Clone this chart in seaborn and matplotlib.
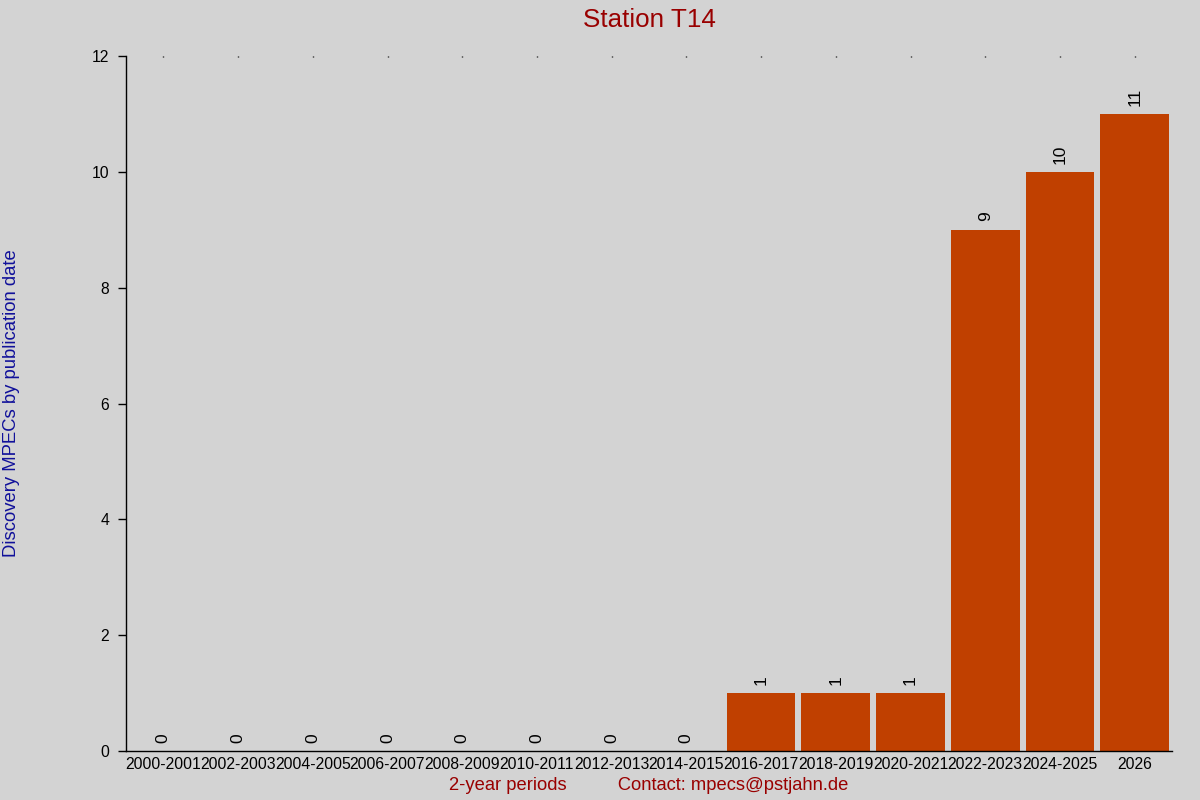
import pandas as pd
import seaborn as sns
import matplotlib.pyplot as plt

# data
periods = ['2000-2001', '2002-2003', '2004-2005', '2006-2007', '2008-2009',
           '2010-2011', '2012-2013', '2014-2015', '2016-2017', '2018-2019',
           '2020-2021', '2022-2023', '2024-2025', '2026']
counts = [0, 0, 0, 0, 0, 0, 0, 0, 1, 1, 1, 9, 10, 11]
yticks = [0, 2, 4, 6, 8, 10, 12]

bg = '#d3d3d3'
sns.set_theme(style='ticks')
plt.rcParams['font.family'] = ['Liberation Sans', 'DejaVu Sans']

df = pd.DataFrame({'period': periods, 'count': counts})

fig = plt.figure(figsize=(12, 8), dpi=100, facecolor=bg)
ax = fig.add_axes([126 / 1200, 1 - 751 / 800, 1046 / 1200, 695 / 800])
ax.set_facecolor(bg)

sns.barplot(data=df, x='period', y='count', color='#c04000', saturation=1,
            width=0.92, linewidth=0, ax=ax)
#value labels above the bars
ax.bar_label(ax.containers[0], labels=[str(c) for c in counts], rotation=90,
             padding=6, fontsize=12.5, color='black')

ax.set_xlim(-0.5, len(periods) - 0.5)
ax.set_ylim(0, 12)
ax.set_yticks(yticks)
ax.set_yticklabels([str(t) for t in yticks])

sns.despine(ax=ax, top=True, right=True)
for s in ['left', 'bottom']:
    ax.spines[s].set_color('black')
    ax.spines[s].set_linewidth(1)

ax.tick_params(axis='y', length=6, width=1, pad=6, labelsize=11.3, colors='black')
ax.tick_params(axis='x', bottom=False, top=True, labeltop=False, labelbottom=True,
               length=1, width=1, direction='in', pad=4, labelsize=11.3, colors='black')

ax.set_title('Station T14', fontsize=18.7, color='#990000', pad=21)
ax.set_xlabel('2-year periods          Contact: mpecs@pstjahn.de',
              fontsize=13.2, color='#990000')
ax.xaxis.set_label_coords(0.5, -0.05)
ax.xaxis.label.set_va('center')
ax.set_ylabel('Discovery MPECs by publication date', fontsize=13.3, color='#10109a')
ax.yaxis.set_label_coords(-0.109, 0.5)
ax.yaxis.label.set_va('center')

fig.savefig('out.png', dpi=100, facecolor=bg)
